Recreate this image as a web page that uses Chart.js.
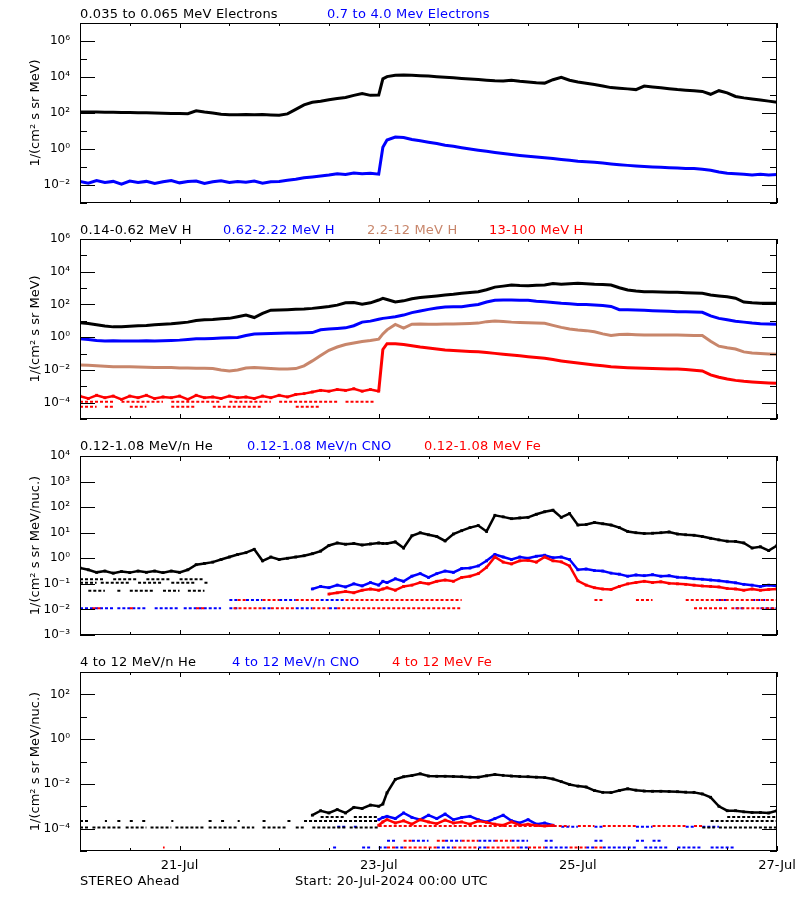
<!DOCTYPE html>
<html>
<head>
<meta charset="utf-8">
<script src="https://cdn.jsdelivr.net/npm/chart.js@4.4.1/dist/chart.umd.min.js"></script>
<style>
  body { margin: 0; background: #fff; }
  #page { position: relative; width: 800px; height: 900px; overflow: hidden; font-family: 'DejaVu Sans', sans-serif; }
  #page canvas { position: absolute; left: 0; }
  .t { position: absolute; font-size: 13px; line-height: 15px; letter-spacing: 0.2px; white-space: nowrap; color: #000; }
  .blue { color: #0000ff; }
  .red { color: #ff0000; }
  .brown { color: #c8866b; }
</style>
</head>
<body>
<div id="page">
  <canvas id="p1" width="800" height="204" style="top:11px"></canvas>
  <canvas id="p2" width="800" height="204" style="top:227px"></canvas>
  <canvas id="p3" width="800" height="203" style="top:444px"></canvas>
  <canvas id="p4" width="800" height="216" style="top:660px"></canvas>

  <div class="t" style="top:6px;left:80px">0.035 to 0.065 MeV Electrons</div>
  <div class="t blue" style="top:6px;left:327px">0.7 to 4.0 Mev Electrons</div>

  <div class="t" style="top:222px;left:80px">0.14-0.62 MeV H</div>
  <div class="t blue" style="top:222px;left:223px">0.62-2.22 MeV H</div>
  <div class="t brown" style="top:222px;left:367px">2.2-12 MeV H</div>
  <div class="t red" style="top:222px;left:489px">13-100 MeV H</div>

  <div class="t" style="top:438px;left:80px">0.12-1.08 MeV/n He</div>
  <div class="t blue" style="top:438px;left:247px">0.12-1.08 MeV/n CNO</div>
  <div class="t red" style="top:438px;left:424px">0.12-1.08 MeV Fe</div>

  <div class="t" style="top:654px;left:80px">4 to 12 MeV/n He</div>
  <div class="t blue" style="top:654px;left:232px">4 to 12 MeV/n CNO</div>
  <div class="t red" style="top:654px;left:392px">4 to 12 MeV Fe</div>

  <div class="t" style="top:873px;left:80px">STEREO Ahead</div>
  <div class="t" style="top:873px;left:295px">Start: 20-Jul-2024 00:00 UTC</div>
</div>

<script>
// time axis: hours since 20-Jul-2024 00:00 UTC
const hours = [0, 2, 4, 6, 8, 10, 12, 14, 16, 18, 20, 22, 24, 26, 28, 30, 32, 34, 36, 38,
    40, 42, 44, 46, 48, 50, 52, 54, 56, 58, 60, 62, 64, 66, 68, 70, 72, 73, 74, 76,
    78, 80, 82, 84, 86, 88, 90, 92, 94, 96, 98, 100, 102, 104, 106, 108, 110, 112, 114, 116,
    118, 120, 122, 124, 126, 128, 130, 132, 134, 136, 138, 140, 142, 144, 146, 148, 150, 152, 154, 156,
    158, 160, 162, 164, 166, 168];
const xTickHours = [12, 24, 36, 48, 60, 72, 84, 96, 108, 120, 132, 144, 156, 168];
const xLabelHours = [24, 72, 120, 168];
const xLabelNames = ['21-Jul', '23-Jul', '25-Jul', '27-Jul'];

// all flux values below are log10 of the flux

// panel 1: electrons
const elecLowLog = [
    2.06, 2.05, 2.05, 2.04, 2.04, 2.03, 2.03, 2.02, 2.01, 2.00,
    1.98, 1.97, 1.97, 1.96, 2.12, 2.05, 2.00, 1.93, 1.90, 1.90,
    1.92, 1.90, 1.91, 1.89, 1.88, 1.95, 2.20, 2.45, 2.60, 2.65,
    2.74, 2.80, 2.86, 2.98, 3.08, 2.98, 3.00, 3.90,
    4.02, 4.10, 4.11, 4.10, 4.07, 4.05, 4.02, 3.99, 3.96, 3.92,
    3.89, 3.86, 3.82, 3.79, 3.78, 3.82, 3.76, 3.72, 3.68, 3.66,
    3.85, 3.98, 3.82, 3.72, 3.65, 3.58, 3.50, 3.41, 3.38, 3.34,
    3.30, 3.50, 3.45, 3.40, 3.35, 3.30, 3.27, 3.24, 3.20, 3.04,
    3.24, 3.12, 2.92, 2.84, 2.78, 2.72, 2.66, 2.59];
const elecHighLog = [
    -1.80, -1.90, -1.75, -1.86, -1.80, -1.95, -1.78, -1.86, -1.80, -1.92,
    -1.82, -1.75, -1.88, -1.80, -1.78, -1.92, -1.82, -1.76, -1.86, -1.80,
    -1.85, -1.78, -1.90, -1.82, -1.80, -1.74, -1.68, -1.60, -1.55, -1.50,
    -1.45, -1.38, -1.42, -1.33, -1.38, -1.35, -1.40, 0.10,
    0.50, 0.66, 0.64, 0.53, 0.46, 0.38, 0.30, 0.21, 0.15, 0.07,
    0.00, -0.07, -0.13, -0.19, -0.25, -0.31, -0.36, -0.40, -0.45, -0.49,
    -0.53, -0.58, -0.63, -0.68, -0.71, -0.74, -0.78, -0.83, -0.87, -0.91,
    -0.94, -0.97, -1.00, -1.02, -1.04, -1.06, -1.08, -1.09, -1.12, -1.18,
    -1.28, -1.35, -1.38, -1.40, -1.44, -1.40, -1.45, -1.42];

// panel 2: protons
const pLowLog = [
    0.88, 0.84, 0.76, 0.68, 0.63, 0.64, 0.67, 0.70, 0.72, 0.76,
    0.79, 0.82, 0.87, 0.92, 1.02, 1.06, 1.08, 1.12, 1.15, 1.25,
    1.35, 1.20, 1.45, 1.65, 1.66, 1.68, 1.70, 1.72, 1.76, 1.82,
    1.88, 1.96, 2.10, 2.12, 2.02, 2.10, 2.27, 2.37,
    2.30, 2.15, 2.22, 2.35, 2.42, 2.47, 2.52, 2.58, 2.62, 2.68,
    2.73, 2.78, 2.90, 3.06, 3.12, 3.19, 3.16, 3.15, 3.17, 3.19,
    3.28, 3.24, 3.26, 3.29, 3.27, 3.23, 3.22, 3.19, 3.02, 2.88,
    2.82, 2.78, 2.77, 2.76, 2.75, 2.74, 2.72, 2.70, 2.68, 2.58,
    2.52, 2.47, 2.38, 2.15, 2.10, 2.08, 2.08, 2.07];
const pMidLog = [
    -0.10, -0.14, -0.20, -0.24, -0.22, -0.24, -0.23, -0.24, -0.22, -0.23,
    -0.22, -0.20, -0.18, -0.14, -0.10, -0.10, -0.08, -0.05, -0.04, -0.02,
    0.10, 0.20, 0.21, 0.22, 0.24, 0.25, 0.26, 0.27, 0.28, 0.45,
    0.50, 0.53, 0.57, 0.70, 0.92, 0.98, 1.10, 1.15,
    1.18, 1.25, 1.35, 1.50, 1.60, 1.70, 1.78, 1.85, 1.86, 1.86,
    1.93, 2.00, 2.15, 2.25, 2.27, 2.27, 2.26, 2.25, 2.20, 2.17,
    2.12, 2.07, 2.04, 2.00, 1.99, 1.97, 1.93, 1.88, 1.68, 1.67,
    1.66, 1.64, 1.62, 1.60, 1.58, 1.56, 1.55, 1.54, 1.52, 1.30,
    1.15, 1.06, 0.98, 0.92, 0.86, 0.82, 0.80, 0.79];
const pHighLog = [
    -1.70, -1.72, -1.75, -1.78, -1.80, -1.80, -1.81, -1.82, -1.84, -1.85,
    -1.86, -1.86, -1.88, -1.88, -1.90, -1.90, -1.92, -2.00, -2.06, -2.00,
    -1.88, -1.85, -1.88, -1.92, -1.95, -1.95, -1.92, -1.75, -1.45, -1.12,
    -0.80, -0.60, -0.45, -0.35, -0.26, -0.20, -0.12, 0.20,
    0.45, 0.78, 0.55, 0.79, 0.80, 0.79, 0.79, 0.80, 0.80, 0.82,
    0.84, 0.86, 0.95, 0.99, 0.96, 0.92, 0.90, 0.88, 0.87, 0.85,
    0.72, 0.60, 0.50, 0.44, 0.40, 0.33, 0.20, 0.10, 0.16, 0.18,
    0.15, 0.13, 0.13, 0.13, 0.13, 0.13, 0.12, 0.11, 0.10, -0.25,
    -0.55, -0.65, -0.72, -0.90, -0.97, -1.00, -1.03, -1.05];
// 13-100 MeV H, from 72 h on
const pTopLog = [
    -3.30, -0.75,
    -0.40, -0.40, -0.45, -0.52, -0.60, -0.66, -0.72, -0.78, -0.82, -0.85,
    -0.87, -0.89, -0.94, -0.99, -1.04, -1.09, -1.14, -1.19, -1.24, -1.29,
    -1.37, -1.45, -1.52, -1.58, -1.64, -1.70, -1.75, -1.81, -1.84, -1.87,
    -1.89, -1.90, -1.92, -1.93, -1.94, -1.95, -1.98, -2.02, -2.06, -2.30,
    -2.45, -2.56, -2.64, -2.70, -2.74, -2.77, -2.80, -2.82];
// 13-100 MeV H before the event, 0 to 72 h
const pTopQuietLog = [
    -3.60, -3.75, -3.55, -3.70, -3.60, -3.80, -3.60, -3.70, -3.55, -3.75,
    -3.65, -3.70, -3.60, -3.80, -3.55, -3.70, -3.65, -3.75, -3.60, -3.70,
    -3.65, -3.75, -3.60, -3.70, -3.55, -3.65, -3.50, -3.45, -3.35, -3.25,
    -3.30, -3.20, -3.25, -3.15, -3.30, -3.20, -3.30];
const pTopRowA = [[0, 8], [10, 20], [22, 34], [36, 46], [48, 62], [64, 71]];
const pTopRowB = [[0, 4], [6, 8], [12, 16], [22, 28], [32, 44], [52, 58]];

// panel 3: 0.12-1.08 MeV/n ions
const heLowLog = [
    -0.38, -0.45, -0.55, -0.50, -0.58, -0.52, -0.56, -0.50, -0.55, -0.50,
    -0.56, -0.50, -0.55, -0.45, -0.25, -0.20, -0.15, -0.05, 0.05, 0.15,
    0.22, 0.35, -0.10, 0.05, -0.05, 0.00, 0.05, 0.10, 0.18, 0.28,
    0.50, 0.60, 0.55, 0.58, 0.52, 0.56, 0.60, 0.58,
    0.58, 0.64, 0.40, 0.88, 1.00, 0.92, 0.85, 0.68, 0.95, 1.08,
    1.20, 1.28, 1.05, 1.68, 1.62, 1.55, 1.58, 1.60, 1.72, 1.82,
    1.88, 1.60, 1.75, 1.30, 1.32, 1.40, 1.35, 1.30, 1.20, 1.05,
    1.00, 0.97, 0.98, 1.00, 1.03, 0.95, 0.92, 0.90, 0.85, 0.78,
    0.72, 0.67, 0.66, 0.60, 0.40, 0.45, 0.30, 0.50];
// CNO from 56 h on
const cnoLowLog = [
    -1.20, -1.10,
    -1.15, -1.05, -1.12, -1.00, -1.08, -0.95, -1.05, -0.90,
    -0.95, -0.80, -0.90, -0.70, -0.60, -0.75, -0.60, -0.50, -0.55, -0.40,
    -0.38, -0.30, -0.10, 0.15, 0.05, -0.05, 0.05, 0.00, 0.08, 0.12,
    0.02, 0.05, -0.05, -0.45, -0.42, -0.48, -0.50, -0.58, -0.62, -0.70,
    -0.65, -0.68, -0.64, -0.70, -0.68, -0.74, -0.76, -0.80, -0.82, -0.85,
    -0.88, -0.92, -0.96, -1.02, -1.05, -1.10, -1.05, -1.08];
// Fe from 60 h on
const feLowLog = [
    -1.40, -1.35, -1.30, -1.35, -1.25, -1.20, -1.25, -1.20,
    -1.15, -1.25, -1.10, -1.05, -0.95, -1.00, -0.90, -0.85, -0.90, -0.75,
    -0.70, -0.60, -0.35, 0.05, -0.15, -0.22, -0.10, -0.08, -0.15, 0.05,
    -0.10, -0.14, -0.30, -0.88, -1.05, -1.15, -1.20, -1.22, -1.10, -1.00,
    -0.95, -0.90, -0.95, -0.92, -0.98, -1.00, -1.02, -1.05, -1.08, -1.10,
    -1.12, -1.18, -1.20, -1.25, -1.20, -1.25, -1.22, -1.20];
// count-level rows: [start h, end h]
const heRow015 = [[0, 6], [8, 14], [16, 22], [24, 30]];
const heRow011 = [[0, 4], [5, 12], [14, 20], [22, 28], [30, 31]];
const heRow005 = [[2, 6], [9, 10], [12, 18], [20, 24], [26, 30]];
const cnoRow011 = [[0, 8], [9, 16], [18, 24], [25, 34], [36, 38], [44, 46], [52, 56], [60, 62], [158, 160], [164, 168]];
const feRow011 = [[3, 5], [12, 13], [28, 30], [37, 44], [46, 52], [56, 60], [62, 92], [148, 156], [157, 168]];
const cnoRow022 = [[36, 38], [40, 44], [48, 52], [58, 64], [154, 156], [162, 166]];
const feRow022 = [[38, 40], [44, 48], [52, 58], [64, 92], [124, 126], [134, 138], [146, 168]];

// panel 4: 4-12 MeV/n ions
// He from 56 h on
const heHighLog = [
    -3.40, -3.20,
    -3.30, -3.15, -3.30, -3.05, -3.10, -2.95, -3.00, -2.90,
    -2.40, -1.80, -1.68, -1.63, -1.55, -1.65, -1.66, -1.66, -1.67, -1.68,
    -1.70, -1.70, -1.64, -1.58, -1.62, -1.65, -1.67, -1.68, -1.70, -1.72,
    -1.78, -1.90, -2.03, -2.10, -2.14, -2.30, -2.38, -2.39, -2.30, -2.22,
    -2.28, -2.32, -2.33, -2.33, -2.34, -2.35, -2.37, -2.38, -2.45, -2.60,
    -3.00, -3.20, -3.20, -3.25, -3.28, -3.28, -3.30, -3.20];
// Fe and CNO, 72 to 114 h
const feHighLog = [
    -3.85, -3.70, -3.60, -3.75, -3.65, -3.80, -3.60, -3.70, -3.78, -3.62,
    -3.75, -3.70, -3.80, -3.66, -3.72, -3.80, -3.85, -3.70, -3.85, -3.80,
    -3.86, -3.88, -3.86];
const cnoHighLog = [
    -3.60, -3.50, -3.45, -3.55, -3.30, -3.50, -3.60, -3.40, -3.55, -3.35,
    -3.60, -3.50, -3.45, -3.60, -3.70, -3.55, -3.40, -3.65, -3.75, -3.60,
    -3.80, -3.75, -3.85];
const heRowA = [[0, 2], [3, 10], [11, 16], [17, 22], [23, 30], [31, 38], [39, 42], [44, 50], [52, 54], [56, 64], [65, 72], [150, 153], [154, 168]];
const heRowB = [[0, 2], [6, 6.5], [9, 10], [12, 13], [15, 16], [22, 22.5], [31, 32], [34, 35], [38, 38.5], [44, 45], [50, 51], [54, 72], [152, 168]];
const heRowC = [[58, 64], [66, 72], [156, 168]];
const feRow4a = [[72, 118], [120, 124], [126, 134], [138, 146], [148, 150]];
const cnoRow4a = [[62, 64], [66, 67], [116, 120], [124, 126], [134, 138], [146, 148], [150, 154]];
const feRow4b = [[20, 20.4], [74, 76], [78, 86], [90, 96], [98, 106], [108, 112], [118, 122], [124, 126]];
const cnoRow4b = [[61, 62], [68, 70], [72, 74], [76, 78], [86, 90], [96, 98], [106, 108], [112, 118], [122, 124], [126, 134], [136, 142], [144, 150], [152, 158]];
const feRow4c = [[78, 80], [86, 88], [92, 96], [100, 104]];
const cnoRow4c = [[74, 76], [80, 84], [88, 92], [96, 100], [104, 108], [112, 114], [124, 126], [134, 136], [138, 140]];

// y axis decades per panel, and which ones carry a label
const p1Decades = [-3, -2, -1, 0, 1, 2, 3, 4, 5, 6, 7];
const p1Labeled = [-2, 0, 2, 4, 6];
const p2Decades = [-5, -4, -3, -2, -1, 0, 1, 2, 3, 4, 5, 6];
const p2Labeled = [-4, -2, 0, 2, 4, 6];
const p3Decades = [-3, -2, -1, 0, 1, 2, 3, 4];
const p3Labeled = [-3, -2, -1, 0, 1, 2, 3, 4];
const p4Decades = [-5, -4, -3, -2, -1, 0, 1, 2, 3];
const p4Labeled = [-4, -2, 0, 2];

const BLACK = '#000000', BLUE = '#0000ff', RED = '#ff0000', BROWN = '#c8866b';

Chart.defaults.font.family = "'DejaVu Sans', sans-serif";

const sup = { '-': '\u207B', '0': '\u2070', '1': '\u00B9', '2': '\u00B2', '3': '\u00B3', '4': '\u2074', '5': '\u2075', '6': '\u2076', '7': '\u2077' };
function decadeLabel(e) {
    return '10' + String(e).split('').map(c => sup[c]).join('');
}

// turn log10 values into points on the hours axis
function pts(logs, startHour = 0) {
    const i0 = hours.indexOf(startHour);
    return logs.map((v, i) => ({ x: hours[i0 + i], y: Math.pow(10, v) }));
}

// dashed count rows, broken with null gaps
function rowPts(segs, level) {
    const out = [];
    segs.forEach(([a, b]) => {
        out.push({ x: a, y: Math.pow(10, level) }, { x: b, y: Math.pow(10, level) }, { x: b, y: null });
    });
    return out;
}

function lineSet(data, color, width = 3) {
    return { data, borderColor: color, backgroundColor: color, borderWidth: width, pointRadius: 0, tension: 0 };
}

function cloudSet(data, color) {
    return {
        data, borderColor: color, backgroundColor: color, borderWidth: 2.5,
        pointRadius: 2, pointStyle: 'rect', pointBorderWidth: 0, tension: 0
    };
}

function rowSet(segs, level, color) {
    return {
        data: rowPts(segs, level), borderColor: color, borderWidth: 2,
        borderDash: [3, 2], pointRadius: 0, spanGaps: false
    };
}

// frame plus inward tick marks, as in the original plots
const frame = {
    id: 'frame',
    afterDatasetsDraw(chart, args, o) {
        const { ctx, chartArea: a } = chart;
        const x = chart.scales.x, y = chart.scales.y;
        ctx.save();
        ctx.strokeStyle = '#000';
        ctx.lineWidth = 1;
        ctx.beginPath();
        o.decades.forEach(e => {
            const py = Math.round(y.getPixelForValue(Math.pow(10, e))) + 0.5;
            const len = o.labeled.includes(e) ? 15 : 7;
            ctx.moveTo(a.left, py); ctx.lineTo(a.left + len, py);
            ctx.moveTo(a.right, py); ctx.lineTo(a.right - len, py);
        });
        xTickHours.forEach(h => {
            const px = Math.round(x.getPixelForValue(h)) + 0.5;
            const len = xLabelHours.includes(h) ? 5 : 3;
            ctx.moveTo(px, a.bottom); ctx.lineTo(px, a.bottom - len);
            ctx.moveTo(px, a.top); ctx.lineTo(px, a.top + len);
        });
        ctx.stroke();
        ctx.strokeRect(a.left + 0.5, a.top + 0.5, a.right - a.left - 1, a.bottom - a.top - 1);
        ctx.restore();
    }
};

function makePanel(id, p) {
    return new Chart(document.getElementById(id), {
        type: 'line',
        data: { datasets: p.datasets },
        options: {
            responsive: false,
            animation: false,
            events: [],
            layout: { padding: { left: 0, right: 23, top: 12, bottom: p.showX ? 0 : 12 } },
            plugins: {
                legend: { display: false },
                tooltip: { enabled: false },
                frame: { decades: p.decades, labeled: p.labeled }
            },
            scales: {
                x: {
                    type: 'linear',
                    min: 0,
                    max: 168,
                    display: p.showX,
                    grid: { display: false, drawTicks: false },
                    border: { display: false },
                    afterFit: s => {
                        s.height = p.showX ? 25 : 0;
                        s.paddingLeft = 0;
                        s.paddingRight = 0;
                    },
                    afterBuildTicks: s => { s.ticks = xLabelHours.map(h => ({ value: h })); },
                    ticks: {
                        padding: 7,
                        maxRotation: 0,
                        autoSkip: false,
                        color: '#000',
                        font: { size: 13 },
                        callback: (v, i) => xLabelNames[i]
                    }
                },
                y: {
                    type: 'logarithmic',
                    min: Math.pow(10, p.decades[0]),
                    max: Math.pow(10, p.decades[p.decades.length - 1]),
                    grid: { display: false, drawTicks: false },
                    border: { display: false },
                    afterFit: s => {
                        s.width = 80;
                        s.paddingTop = 0;
                        s.paddingBottom = 0;
                    },
                    afterBuildTicks: s => { s.ticks = p.labeled.map(e => ({ value: Math.pow(10, e) })); },
                    ticks: {
                        padding: 10,
                        autoSkip: false,
                        color: '#000',
                        font: { size: 12 },
                        callback: (v, i) => decadeLabel(p.labeled[i])
                    },
                    title: {
                        display: true,
                        text: p.yTitle,
                        color: '#000',
                        font: { size: 13 },
                        padding: { top: 28, bottom: 0 }
                    }
                }
            }
        },
        plugins: [frame]
    });
}

makePanel('p1', {
    decades: p1Decades, labeled: p1Labeled, yTitle: '1/(cm\u00B2 s sr MeV)', showX: false,
    datasets: [
        lineSet(pts(elecLowLog), BLACK),
        lineSet(pts(elecHighLog), BLUE)
    ]
});

makePanel('p2', {
    decades: p2Decades, labeled: p2Labeled, yTitle: '1/(cm\u00B2 s sr MeV)', showX: false,
    datasets: [
        lineSet(pts(pTopLog, 72), RED),
        cloudSet(pts(pTopQuietLog), RED),
        rowSet(pTopRowA, -3.95, RED),
        rowSet(pTopRowB, -4.25, RED),
        lineSet(pts(pHighLog), BROWN),
        lineSet(pts(pMidLog), BLUE),
        lineSet(pts(pLowLog), BLACK)
    ]
});

makePanel('p3', {
    decades: p3Decades, labeled: p3Labeled, yTitle: '1/(cm\u00B2 s sr MeV/nuc.)', showX: false,
    datasets: [
        cloudSet(pts(feLowLog, 60), RED),
        cloudSet(pts(cnoLowLog, 56), BLUE),
        rowSet(feRow011, -1.95, RED),
        rowSet(cnoRow011, -1.95, BLUE),
        rowSet(feRow022, -1.63, RED),
        rowSet(cnoRow022, -1.63, BLUE),
        cloudSet(pts(heLowLog), BLACK),
        rowSet(heRow015, -0.82, BLACK),
        rowSet(heRow011, -0.96, BLACK),
        rowSet(heRow005, -1.27, BLACK)
    ]
});

makePanel('p4', {
    decades: p4Decades, labeled: p4Labeled, yTitle: '1/(cm\u00B2 s sr MeV/nuc.)', showX: true,
    datasets: [
        cloudSet(pts(heHighLog, 56), BLACK),
        rowSet(heRowA, -3.95, BLACK),
        rowSet(heRowB, -3.66, BLACK),
        rowSet(heRowC, -3.48, BLACK),
        cloudSet(pts(feHighLog, 72), RED),
        cloudSet(pts(cnoHighLog, 72), BLUE),
        rowSet(feRow4a, -3.88, RED),
        rowSet(cnoRow4a, -3.92, BLUE),
        rowSet(feRow4b, -4.84, RED),
        rowSet(cnoRow4b, -4.84, BLUE),
        rowSet(feRow4c, -4.54, RED),
        rowSet(cnoRow4c, -4.54, BLUE)
    ]
});
</script>
</body>
</html>
